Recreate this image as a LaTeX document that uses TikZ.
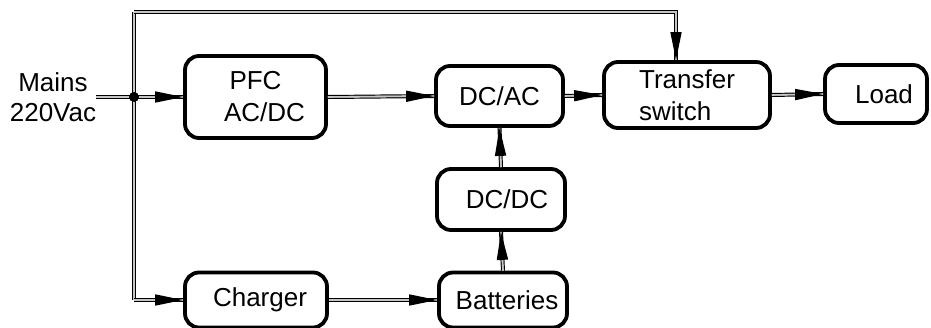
\documentclass[tikz,border=0pt]{standalone}
\usepackage{fontspec}
\setmainfont{Liberation Sans}
\usetikzlibrary{arrows.meta}
\begin{document}
\begin{tikzpicture}[x=1pt,y=-1pt,
  blk/.style={draw=black, line width=3.8pt, rounded corners=14pt, rectangle, inner sep=0pt, align=center,
    font=\fontsize{26}{32}\selectfont},
  lbl/.style={inner sep=0pt, align=center, font=\fontsize{26}{30}\selectfont},
  wire/.style={draw=black, line width=1.2pt, double=gray!45, double distance=1.6pt},
  tipst/.style={draw=gray!45, line width=1.6pt, -{Triangle[length=28pt,width=11pt,color=black]}}
]
\useasboundingbox (0,0) rectangle (931,328);
% boxes
\node[blk, minimum width=141pt, minimum height=82pt] (pfc) at (255.5,97) {PFC\\\hspace*{18pt}AC/DC};
\node[blk, minimum width=127pt, minimum height=60pt] (dcac) at (499.5,96) {DC/AC};
\node[blk, minimum width=166pt, minimum height=66pt, align=left] (ts) at (687,95) {Transfer\\switch};
\node[blk, minimum width=102pt, minimum height=58pt] (load) at (876,94) {\hspace*{16pt}Load};
\node[blk, minimum width=128pt, minimum height=61pt] (dcdc) at (501,199.5) {\hspace*{12pt}DC/DC};
\node[blk, minimum width=142pt, minimum height=55pt] (charger) at (256,300) {\hspace*{8pt}Charger};
\node[blk, minimum width=128pt, minimum height=55pt] (batt) at (503,300) {\hspace*{8pt}Batteries};
% mains label
\node[lbl] (mains) at (53,97) {Mains\\220Vac};
% coordinates
\coordinate (j) at (134,97);
\coordinate (tl) at (134,12);
\coordinate (bl) at (134,300);
% wires
\draw[wire] (tl) -- (bl);
\draw[wire] (tl) -| ([xshift=-11pt]ts.north);
\draw[tipst] (tl) -| ([xshift=-11pt]ts.north);
\draw[wire] (mains.east) -- (pfc.west);
\draw[tipst] (mains.east) -- (pfc.west);
\draw[wire] (bl) -- (charger.west);
\draw[tipst] (bl) -- (charger.west);
\draw[wire] (pfc.east) -- (dcac.west);
\draw[tipst] (pfc.east) -- (dcac.west);
\draw[wire] (dcac.east) -- (ts.west);
\draw[tipst] (dcac.east) -- (ts.west);
\draw[wire] (ts.east) -- (load.west);
\draw[tipst] (ts.east) -- (load.west);
\draw[wire] (charger.east) -- (batt.west);
\draw[tipst] (charger.east) -- (batt.west);
\draw[wire] (batt.north) -- (dcdc.south);
\draw[tipst] (batt.north) -- (dcdc.south);
\draw[wire] (dcdc.north) -- (dcac.south);
\draw[tipst] (dcdc.north) -- (dcac.south);
\fill[black] (j) circle (5pt);
\end{tikzpicture}
\end{document}
